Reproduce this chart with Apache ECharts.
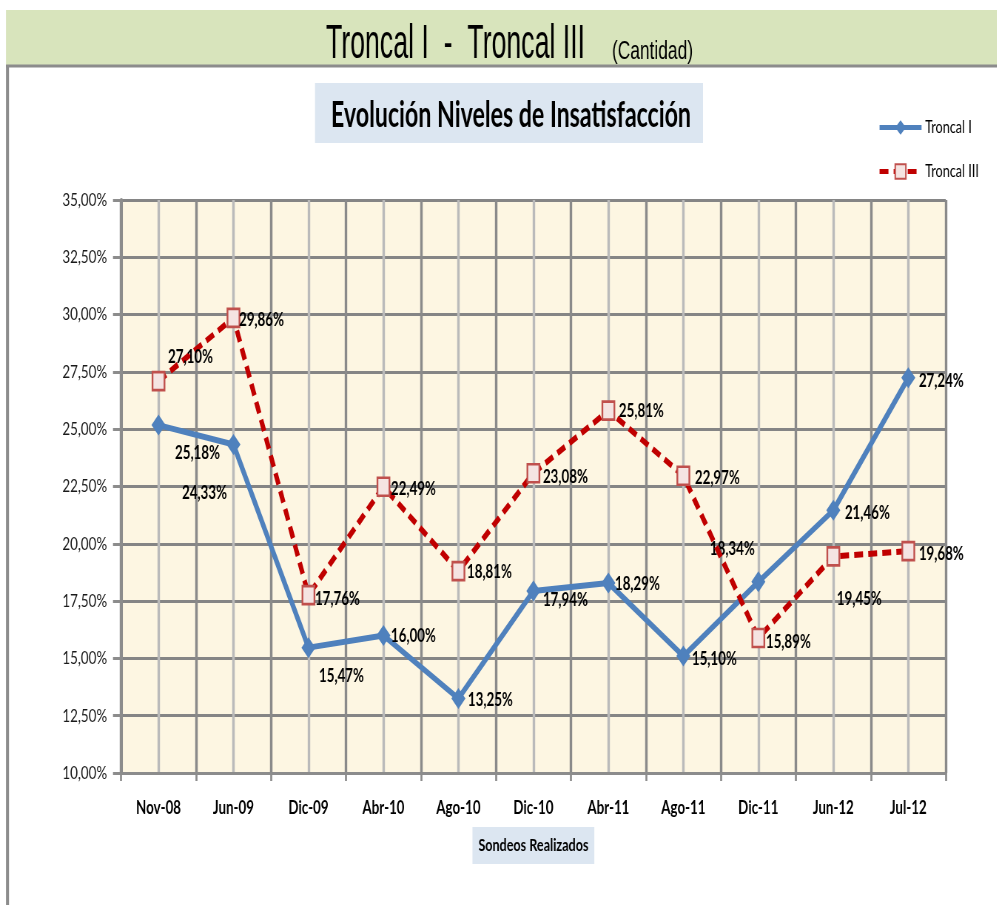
<!DOCTYPE html>
<html>
<head>
<meta charset="utf-8">
<title>Troncal I - Troncal III</title>
<script src="https://cdn.jsdelivr.net/npm/echarts@6/dist/echarts.min.js"></script>
<style>
  html, body { margin: 0; padding: 0; background: #ffffff; overflow: hidden; width: 997px; height: 905px; }
  /* the chart is laid out wide and then compressed horizontally for its narrow look */
  #chart { height: 905px; transform-origin: 0 0; }
</style>
</head>
<body>
<div id="chart"></div>
<script>
// Survey dates (x axis)
const categories = ['Nov-08', 'Jun-09', 'Dic-09', 'Abr-10', 'Ago-10', 'Dic-10', 'Abr-11', 'Ago-11', 'Dic-11', 'Jun-12', 'Jul-12'];
// Dissatisfaction levels, in percent
const troncal1 = [25.18, 24.33, 15.47, 16.00, 13.25, 17.94, 18.29, 15.10, 18.34, 21.46, 27.24];
const troncal3 = [27.10, 29.86, 17.76, 22.49, 18.81, 23.08, 25.81, 22.97, 15.89, 19.45, 19.68];
// Y axis range and step
const yMin = 10, yMax = 35, yStep = 2.5;

// Where each value label sits relative to its marker (screen pixels)
const labelShift1 = [[39, 28], [-29, 49], [33, 29], [30, 1], [32, 2], [32, 9], [29, 1], [31, 3], [-26, -33], [34, 3], [33, 3]];
const labelShift3 = [[32, -24], [28, 2], [29, 4], [30, 2], [31, 1], [32, 4], [33, 1], [34, 2], [30, 4], [26, 43], [33, 3]];

// Horizontal compression applied to the whole chart
const S = 0.74;
const W = Math.round(997 / S);
const X = v => v / S;   // screen x -> layout x

const el = document.getElementById('chart');
el.style.width = W + 'px';
el.style.transform = 'scaleX(' + S + ')';

const SANS = "Lato, 'Open Sans', sans-serif";
const ARIAL = "'Liberation Sans', Arial, sans-serif";
const pct = v => v.toFixed(2).replace('.', ',') + '%';

const measureCtx = document.createElement('canvas').getContext('2d');
function fitScale(text, font, screenWidth) {
  measureCtx.font = font;
  return X(screenWidth) / measureCtx.measureText(text).width;
}

function withLabels(values, shifts) {
  return values.map((v, i) => ({
    value: v,
    label: { offset: [X(shifts[i][0]), shifts[i][1]] }
  }));
}

const titleFont = '49px ' + ARIAL;
const unitFont = '25px ' + ARIAL;
const subFont = 'bold 36px ' + SANS;
const titleText = 'Troncal I  -  Troncal III';
const unitText = '(Cantidad)';
const subText = 'Evolución Niveles de Insatisfacción';

const chart = echarts.init(el, null, { renderer: 'canvas', width: W, height: 905 });

chart.setOption({
  backgroundColor: '#ffffff',
  animation: false,
  graphic: [
    // header band
    { type: 'rect', shape: { x: X(6), y: 10, width: W, height: 55 }, style: { fill: '#d8e4bc' }, z: 0 },
    { type: 'line', shape: { x1: X(6), y1: 66, x2: W, y2: 66 }, style: { stroke: '#8c8c8c', lineWidth: 3 }, z: 1 },
    { type: 'line', shape: { x1: X(7.5), y1: 65, x2: X(7.5), y2: 905 }, style: { stroke: '#8c8c8c', lineWidth: X(3) }, z: 1 },
    {
      type: 'text', x: X(326), y: 69, scaleX: fitScale(titleText, titleFont, 259), z: 2,
      style: { text: titleText, fill: '#000', font: titleFont, textVerticalAlign: 'bottom' }
    },
    {
      type: 'text', x: X(612), y: 65, scaleX: fitScale(unitText, unitFont, 81), z: 2,
      style: { text: unitText, fill: '#000', font: unitFont, textVerticalAlign: 'bottom' }
    },
    // chart subtitle box
    { type: 'rect', shape: { x: X(315), y: 83, width: X(388), height: 60 }, style: { fill: '#dce6f1' }, z: 0 },
    {
      type: 'text', x: X(511), y: 115, scaleX: fitScale(subText, subFont, 360), z: 2,
      style: { text: subText, fill: '#000', font: subFont, textAlign: 'center', textVerticalAlign: 'middle' }
    }
  ],
  legend: {
    orient: 'vertical',
    left: X(874),
    top: 114,
    itemWidth: X(42),
    itemHeight: 18,
    itemGap: 27,
    lineStyle: { width: 5 },
    textStyle: { fontFamily: SANS, fontSize: 17, color: '#000' },
    data: ['Troncal I', 'Troncal III']
  },
  grid: {
    left: X(121), right: X(997 - 946), top: 200, bottom: 132,
    show: true, backgroundColor: '#fdf6e2', borderWidth: 0
  },
  xAxis: [
    {
      type: 'category',
      data: categories,
      boundaryGap: true,
      axisLine: { show: true, lineStyle: { color: '#8c8c8c', width: 3 } },
      axisTick: { show: true, length: 8, lineStyle: { color: '#8c8c8c', width: X(2) } },
      axisLabel: { fontFamily: SANS, fontSize: 18, fontWeight: 'bold', color: '#000', margin: 26 },
      splitLine: { show: false },
      name: 'Sondeos Realizados',
      nameLocation: 'middle',
      nameGap: 54,
      nameTextStyle: {
        fontFamily: SANS, fontSize: 17, fontWeight: 'bold', color: '#000',
        backgroundColor: '#dce6f1', padding: [10, 8, 10, 8]
      },
      z: 3
    },
    {
      // grid lines through category boundaries (dark) and centres (light)
      type: 'value',
      min: 0, max: categories.length * 2, interval: 1,
      position: 'bottom',
      axisLine: { show: false },
      axisTick: { show: false },
      axisLabel: { show: false },
      splitLine: { show: true, lineStyle: { color: ['#8a8a8a', '#bababa'], width: X(2.5) } }
    }
  ],
  yAxis: {
    type: 'value',
    min: yMin, max: yMax, interval: yStep,
    axisLine: { show: true, lineStyle: { color: '#8c8c8c', width: X(3) } },
    axisTick: { show: true, inside: false, length: X(8), lineStyle: { color: '#8c8c8c', width: 3 } },
    axisLabel: { fontFamily: SANS, fontSize: 18, color: '#1a1a1a', margin: X(14), formatter: v => pct(v) },
    splitLine: { show: true, lineStyle: { color: '#858585', width: 3 } }
  },
  series: [
    {
      name: 'Troncal I',
      type: 'line',
      xAxisIndex: 0,
      data: withLabels(troncal1, labelShift1),
      symbol: 'diamond',
      symbolSize: [X(14), 21],
      itemStyle: { color: '#4f81bd' },
      lineStyle: { color: '#4f81bd', width: 6 },
      label: {
        show: true, position: 'inside',
        fontFamily: SANS, fontSize: 18, fontWeight: 'bold', color: '#000',
        formatter: p => pct(p.value)
      },
      z: 4
    },
    {
      name: 'Troncal III',
      type: 'line',
      xAxisIndex: 0,
      data: withLabels(troncal3, labelShift3),
      symbol: 'rect',
      symbolSize: [X(12), 18],
      itemStyle: { color: '#f5e4e2', borderColor: '#c0504d', borderWidth: 2.5 },
      lineStyle: { color: '#c00000', width: 6, type: [12, 7] },
      label: {
        show: true, position: 'inside',
        fontFamily: SANS, fontSize: 18, fontWeight: 'bold', color: '#000',
        formatter: p => pct(p.value)
      },
      z: 5
    }
  ]
});
</script>
</body>
</html>
